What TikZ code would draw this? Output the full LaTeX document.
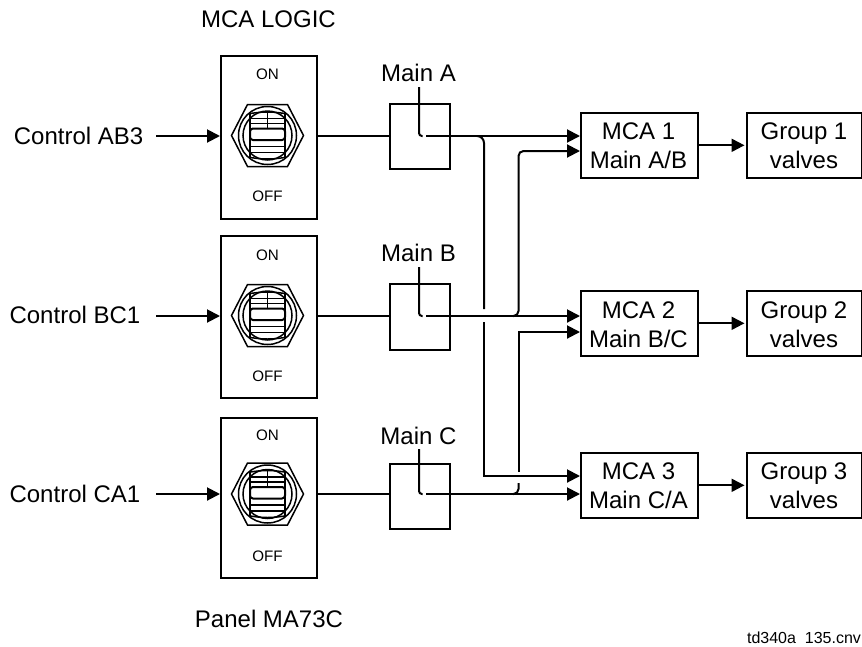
\documentclass[tikz,border=0pt]{standalone}
\usepackage{fontspec}
\setmainfont{Liberation Sans}
\usetikzlibrary{arrows.meta,calc}
\tikzset{
 x=1pt,y=-1pt,
 lbl/.style={font=\fontsize{24}{29}\selectfont,inner sep=0pt,align=center},
 onel/.style={font=\fontsize{24}{29}\selectfont,inner sep=0pt,anchor=base},
 smalltext/.style={font=\fontsize{15.2}{18}\selectfont,inner sep=0pt,anchor=base},
 box/.style={draw,line width=1.8pt,minimum width=#1,inner sep=0pt,anchor=north west},
 wire/.style={line width=2pt},
 thinw/.style={line width=1.6pt},
 arr/.style={line width=2pt,-{Triangle[length=13pt,width=13pt]}},
 sw/.pic={
  \draw[line width=1.5pt] (-36,0)--(-20,-31)--(20,-31)--(36,0)--(20,31)--(-20,31)--cycle;
  \draw[line width=1.5pt] (0,0) circle[radius=29];
  \draw[line width=1.5pt] (0,0) circle[radius=24.5];
  \draw[line width=1.7pt] (-17.5,-23)--(-17.5,23) (17.5,-23)--(17.5,23);
  \foreach \yy in {-17,-12,11,17}{\draw[line width=1.5pt] (-17.5,\yy)--(17.5,\yy);}
  \draw[line width=1.5pt] (-17,-22) .. controls (-5,-24) and (5,-24) .. (17,-22);
  \draw[line width=1.5pt] (-17,22) .. controls (-5,24) and (5,24) .. (17,22);
  \draw[line width=2pt,rounded corners=3pt] (-17.5,-7) rectangle (17.5,4.5);
  \draw[line width=.8pt] (0,-23)--(0,-7);
 }
}
\begin{document}
\begin{tikzpicture}
\useasboundingbox (0,0) rectangle (862,646);
% panels
\foreach \n/\t/\h/\cy in {P1/55/163/135.5,P2/235/162/315.5,P3/417/160/494}{
 \node[box=96pt,minimum height=\h pt] (\n) at (220,\t) {};
 \pic at (267.5,\cy) {sw};
}
\node[smalltext] (on1) at (267.5,79) {ON};
\node[smalltext] (off1) at (267.5,201) {OFF};
\node[smalltext] (on2) at (267.5,260) {ON};
\node[smalltext] (off2) at (267.5,381) {OFF};
\node[smalltext] (on3) at (267.5,440) {ON};
\node[smalltext] (off3) at (267.5,561) {OFF};
\node[onel] (logic) at (268.5,27) {MCA LOGIC};
\node[onel] (panel) at (269,627) {Panel MA73C};
\node[font=\fontsize{16}{19}\selectfont,inner sep=0pt,anchor=base] (ref) at (804,643) {td340a\ \ 135.cnv};
% control labels
\node[onel,anchor=base east] (c1) at (143.5,144) {Control AB3};
\node[onel,anchor=base east] (c2) at (140.5,323) {Control BC1};
\node[onel,anchor=base east] (c3) at (140.5,502) {Control CA1};
% main boxes
\node[box=60pt,minimum height=65pt] (A) at (389,103) {};
\node[box=60pt,minimum height=66pt] (B) at (389,283) {};
\node[box=60pt,minimum height=65pt] (C) at (389,463) {};
\node[onel] (la) at (418.5,81) {Main A};
\node[onel] (lb) at (418.5,261) {Main B};
\node[onel] (lc) at (418.5,444) {Main C};
% MCA
\node[box=117pt,minimum height=65pt,thinw] (M1) at (580,112) {};
\node[box=117pt,minimum height=65pt,thinw] (M2) at (580,290) {};
\node[box=117pt,minimum height=65pt,thinw] (M3) at (580,452) {};
\node[lbl] (tm1) at (638.5,146) {MCA 1\\Main A/B};
\node[lbl] (tm2) at (638.5,324.5) {MCA 2\\Main B/C};
\node[lbl] (tm3) at (638.5,486) {MCA 3\\Main C/A};
\node[box=115pt,minimum height=65pt,thinw] (G1) at (746,112) {};
\node[box=115pt,minimum height=65pt,thinw] (G2) at (746,290) {};
\node[box=115pt,minimum height=65pt,thinw] (G3) at (746,452) {};
\node[lbl] (tg1) at (804,146) {Group 1\\valves};
\node[lbl] (tg2) at (804,324.5) {Group 2\\valves};
\node[lbl] (tg3) at (804,486) {Group 3\\valves};
% inputs
\coordinate (i1) at (156,136);
\coordinate (i2) at (156,316);
\coordinate (i3) at (156,494);
\draw[arr] (i1) -- (i1-|P1.west);
\draw[arr] (i2) -- (i2-|P2.west);
\draw[arr] (i3) -- (i3-|P3.west);
% panel to main
\coordinate (w1) at (316,136);
\coordinate (w2) at (316,316);
\coordinate (w3) at (316,494);
\draw[thinw] (w1) -- (w1-|A.west);
\draw[thinw] (w2) -- (w2-|B.west);
\draw[thinw] (w3) -- (w3-|C.west);
% contacts
\foreach \n/\yc/\yt in {A/136/87,B/316/267,C/494/449}{
 \draw[wire,rounded corners=3pt] (419,\yt) -- (419,\yc) -- (422.5,\yc);
}
% main wires
\coordinate (aS) at (426,136);
\coordinate (bS) at (426,316);
\coordinate (cS) at (426,494);
\draw[arr] (aS) -- (aS-|M1.west);
\draw[arr] (bS) -- (bS-|M2.west);
\draw[arr] (cS) -- (cS-|M3.west);
% Main A branch to MCA 3
\coordinate (a3) at (484,476);
\draw[wire,rounded corners=7pt] (478,136) -- (484,136) -- (484,309);
\draw[arr] (484,322) -- (a3) -- (a3-|M3.west);
% Main B branch to MCA 1
\coordinate (b1) at (518.5,151);
\draw[arr,rounded corners=5pt] (513,316) -- (518.5,316) -- (b1) -- (b1-|M1.west);
% Main C branch to MCA 2
\coordinate (c2t) at (518.5,332);
\draw[wire,rounded corners=5pt] (513,494) -- (518.5,494) -- (518.5,483);
\draw[arr] (518.5,472) -- (c2t) -- (c2t-|M2.west);
% outputs
\draw[arr,shorten >=1.5pt] (M1.east) -- (G1.west);
\draw[arr,shorten >=1.5pt] (M2.east) -- (G2.west);
\draw[arr,shorten >=1.5pt] (M3.east) -- (G3.west);
\end{tikzpicture}
\end{document}
